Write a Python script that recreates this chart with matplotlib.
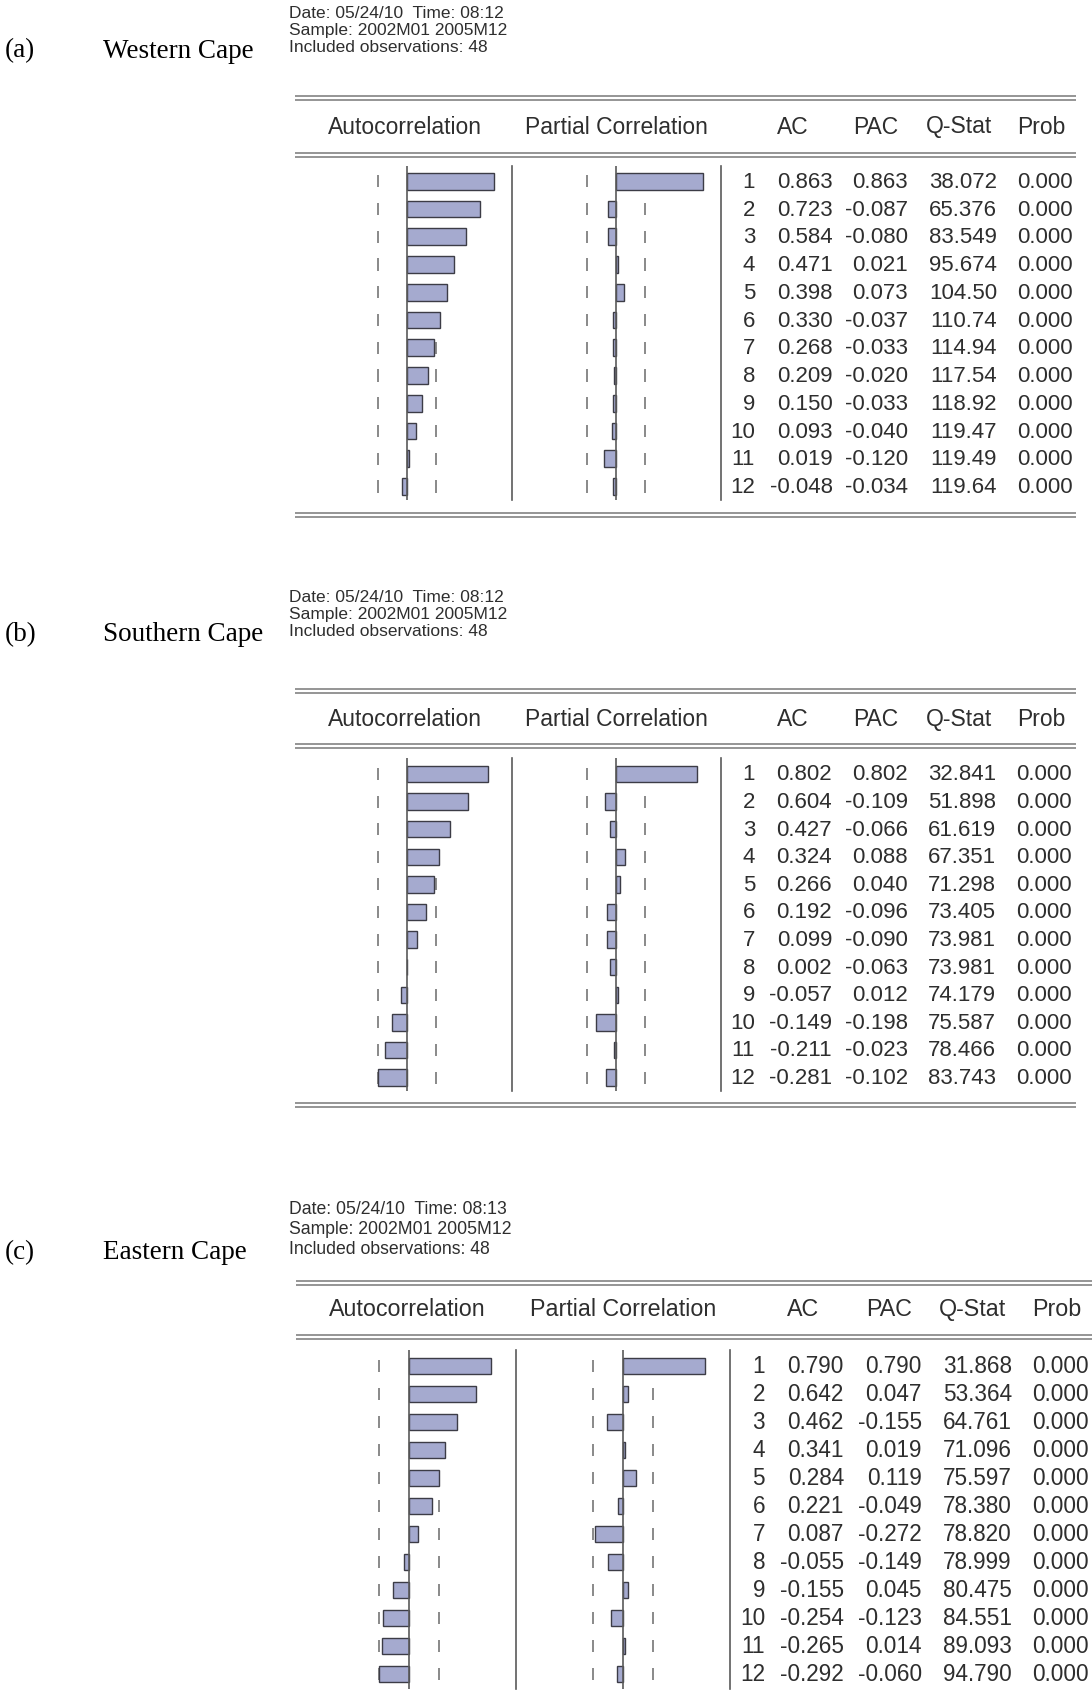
import numpy as np
import matplotlib.pyplot as plt

W, H = 1092, 1699

nobs = 48
lags = np.arange(1, 13)
band = 2 / np.sqrt(nobs)

tags = ['(a)', '(b)', '(c)']
regions = ['Western Cape', 'Southern Cape', 'Eastern Cape']
run_times = ['08:12', '08:12', '08:13']
run_date = '05/24/10'
sample = '2002M01 2005M12'
columns = ['AC', 'PAC', 'Q-Stat', 'Prob']

# Western Cape
wc_ac = [0.863, 0.723, 0.584, 0.471, 0.398, 0.330, 0.268, 0.209, 0.150, 0.093, 0.019, -0.048]
wc_pac = [0.863, -0.087, -0.080, 0.021, 0.073, -0.037, -0.033, -0.020, -0.033, -0.040, -0.120, -0.034]
wc_q = [38.072, 65.376, 83.549, 95.674, 104.50, 110.74, 114.94, 117.54, 118.92, 119.47, 119.49, 119.64]
wc_prob = [0.000] * 12

# Southern Cape
sc_ac = [0.802, 0.604, 0.427, 0.324, 0.266, 0.192, 0.099, 0.002, -0.057, -0.149, -0.211, -0.281]
sc_pac = [0.802, -0.109, -0.066, 0.088, 0.040, -0.096, -0.090, -0.063, 0.012, -0.198, -0.023, -0.102]
sc_q = [32.841, 51.898, 61.619, 67.351, 71.298, 73.405, 73.981, 73.981, 74.179, 75.587, 78.466, 83.743]
sc_prob = [0.000] * 12

# Eastern Cape
ec_ac = [0.790, 0.642, 0.462, 0.341, 0.284, 0.221, 0.087, -0.055, -0.155, -0.254, -0.265, -0.292]
ec_pac = [0.790, 0.047, -0.155, 0.019, 0.119, -0.049, -0.272, -0.149, 0.045, -0.123, 0.014, -0.060]
ec_q = [31.868, 53.364, 64.761, 71.096, 75.597, 78.380, 78.820, 78.999, 80.475, 84.551, 89.093, 94.790]
ec_prob = [0.000] * 12

series = [(wc_ac, wc_pac, wc_q, wc_prob),
          (sc_ac, sc_pac, sc_q, sc_prob),
          (ec_ac, ec_pac, ec_q, ec_prob)]

# pixel layout of each correlogram block
layouts = [
    dict(info_y=(14, 31, 48), tag_y=51, top=97, head=127, sub=154, row1=182.3, step=27.75,
         vtop=166.7, vbot=500.7, bottom=514, zero=406.7, half=104.8, unit=101,
         x0=295, x1=1076, lag_r=755, col_r=(833, 908, 997, 1073),
         head_c=(793, 876, 959, 1041), fs=1.0),
    dict(info_y=(598, 615, 632), tag_y=635, top=690, head=720, sub=745, row1=775, step=27.6,
         vtop=759, vbot=1092, bottom=1104, zero=406.7, half=104.8, unit=101,
         x0=295, x1=1076, lag_r=755, col_r=(832, 908, 996, 1072),
         head_c=(793, 876, 959, 1041), fs=1.0),
    dict(info_y=(1210, 1230, 1250), tag_y=1253, top=1282, head=1310, sub=1336, row1=1367, step=28.0,
         vtop=1351, vbot=1690, bottom=1712, zero=409.3, half=107, unit=104,
         x0=296, x1=1100, lag_r=765, col_r=(844, 922, 1012, 1089),
         head_c=(803, 889, 972, 1057), fs=1.015),
]

BAR = '#a5aacf'
EDGE = '#3c3c46'
AXIS = '#5a5a5a'
RULE = '#8c8c8c'
INK = '#2e2e2e'
SANS = 'Liberation Sans'
SERIF = 'Liberation Serif'

fig = plt.figure(figsize=(W / 100, H / 100), dpi=100)
ax0 = fig.add_axes([0, 0, 1, 1])
ax0.set_xlim(0, W)
ax0.set_ylim(H, 0)
ax0.axis('off')


def px_axes(x0, x1, y0, y1):
    return fig.add_axes([x0 / W, 1 - y1 / H, (x1 - x0) / W, (y1 - y0) / H])


def qfmt(v):
    # five significant digits, like the EViews output
    dec = max(0, 5 - len(str(int(abs(v)))))
    return f'{v:.{dec}f}'


def double_rule(y, x0, x1):
    ax0.hlines([y, y + 4], x0, x1, color=RULE, lw=1.3)


for k, L in enumerate(layouts):
    ac, pac, q, prob = series[k]
    s = L['fs']

    # caption on the left
    ax0.text(5, L['tag_y'], tags[k], family=SERIF, fontsize=19.5, va='center', color='black')
    ax0.text(103, L['tag_y'], regions[k], family=SERIF, fontsize=19.5, va='center', color='black')

    info = [f'Date: {run_date}  Time: {run_times[k]}',
            f'Sample: {sample}',
            f'Included observations: {nobs}']
    for yy, txt in zip(L['info_y'], info):
        ax0.text(289, yy, txt, family=SANS, fontsize=12.5 * s, va='center', color=INK)

    double_rule(L['top'], L['x0'], L['x1'])
    double_rule(L['sub'], L['x0'], L['x1'])
    double_rule(L['bottom'], L['x0'], L['x1'])

    zero_pac = L['zero'] + 2 * L['half']
    ax0.text(L['zero'] - 2, L['head'], 'Autocorrelation', family=SANS, fontsize=16.5 * s,
             ha='center', va='center', color=INK)
    ax0.text(zero_pac, L['head'], 'Partial Correlation', family=SANS, fontsize=16.5 * s,
             ha='center', va='center', color=INK)
    for xc, name in zip(L['head_c'], columns):
        ax0.text(xc, L['head'], name, family=SANS, fontsize=16.5 * s,
                 ha='center', va='center', color=INK)

    # correlogram bars
    for vals, zx in ((ac, L['zero']), (pac, zero_pac)):
        ax = px_axes(zx - L['half'], zx + L['half'], L['vtop'], L['vbot'])
        r = L['half'] / L['unit']
        ax.set_xlim(-r, r)
        ax.set_ylim(1 + (L['vbot'] - L['row1']) / L['step'],
                    1 + (L['vtop'] - L['row1']) / L['step'])
        for b in (-band, band):
            ax.vlines(np.full(len(lags), b), lags - 0.22, lags + 0.22,
                      color='#6a6a6a', lw=1.1, zorder=1)
        ax.barh(lags, vals, height=0.6, color=BAR, edgecolor=EDGE, lw=1.0, zorder=3)
        ax.axvline(0, color=AXIS, lw=1.2, zorder=4)
        for sp in ('left', 'top', 'bottom'):
            ax.spines[sp].set_visible(False)
        ax.spines['right'].set_color(AXIS)
        ax.spines['right'].set_linewidth(1.2)
        ax.set_xticks([])
        ax.set_yticks([])
        ax.patch.set_alpha(0)

    # statistics table
    for i, lag in enumerate(lags):
        yy = L['row1'] + i * L['step']
        cells = [f'{ac[i]:.3f}', f'{pac[i]:.3f}', qfmt(q[i]), f'{prob[i]:.3f}']
        ax0.text(L['lag_r'], yy, str(lag), family=SANS, fontsize=16 * s,
                 ha='right', va='center', color=INK)
        for xr, c in zip(L['col_r'], cells):
            ax0.text(xr, yy, c, family=SANS, fontsize=16 * s,
                     ha='right', va='center', color=INK)

fig.savefig('out.png', dpi=100)
